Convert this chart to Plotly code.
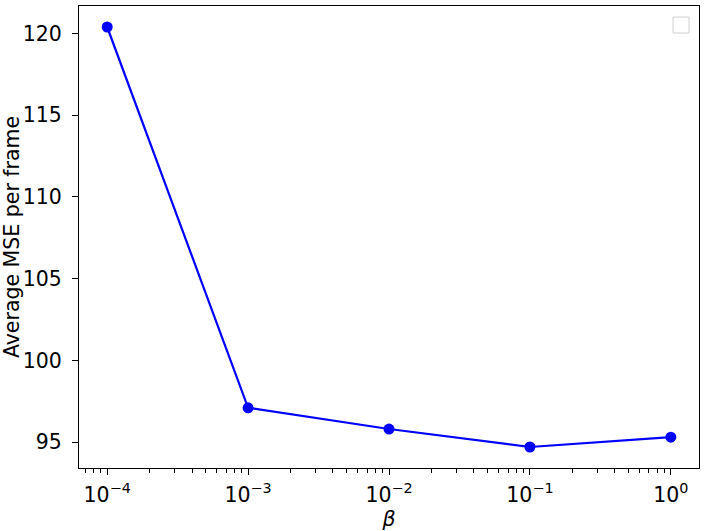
import plotly.graph_objects as go

beta = [1e-4, 1e-3, 1e-2, 1e-1, 1e0]
mse = [120.4, 97.1, 95.8, 94.7, 95.3]
xtick_vals = [1e-4, 1e-3, 1e-2, 1e-1, 1e0]
xtick_text = ["10<sup>−4</sup>", "10<sup>−3</sup>", "10<sup>−2</sup>", "10<sup>−1</sup>", "10<sup>0</sup>"]
ytick_vals = [95, 100, 105, 110, 115, 120]

fig = go.Figure()
fig.add_trace(go.Scatter(x=beta, y=mse, mode="lines+markers",
                         line=dict(color="#0000ff", width=2.2),
                         marker=dict(color="#0000ff", size=11),
                         showlegend=False))

font = dict(family="DejaVu Sans", size=20.5, color="black")
fig.update_layout(
    width=706, height=531,
    margin=dict(l=79, r=7, t=6, b=63, autoexpand=False),
    plot_bgcolor="white", paper_bgcolor="white",
    font=font,
    xaxis=dict(type="log", range=[-4.2, 0.2], tickvals=xtick_vals, ticktext=xtick_text,
               ticks="outside", ticklen=6, tickwidth=1.2, tickcolor="black",
               automargin=False, ticklabelstandoff=2,
               showgrid=False, zeroline=False, showline=True, linecolor="black", linewidth=1.2, mirror=True,
               minor=dict(ticks="outside", ticklen=3.5, tickwidth=0.9, tickcolor="black", dtick="D1", showgrid=False),
               title=dict(text="<i>β</i>", font=font, standoff=4)),
    yaxis=dict(range=[93.415, 121.685], tickvals=ytick_vals,
               ticks="outside", ticklen=6, tickwidth=1.2, tickcolor="black",
               automargin=False, ticklabelstandoff=6,
               showgrid=False, zeroline=False, showline=True, linecolor="black", linewidth=1.2, mirror=True,
               title=dict(text="Average MSE per frame", font=font, standoff=8)),
)
# empty legend box
fig.add_shape(type="rect", xref="paper", yref="paper",
              x0=(673-79)/620, x1=(689-79)/620, y0=1-(33-6)/462, y1=1-(17-6)/462,
              line=dict(color="#d0d0d0", width=1), fillcolor="rgba(255,255,255,0.8)")
fig.write_html("out.html", config={"displayModeBar": False},
               post_script="document.body.style.margin='0';document.body.style.overflow='hidden';")
